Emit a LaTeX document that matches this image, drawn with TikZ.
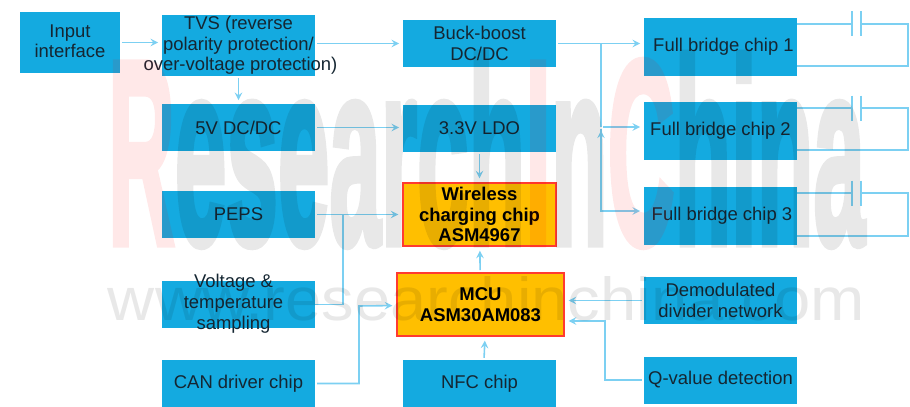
\documentclass[tikz,border=0pt]{standalone}
\usepackage{fontspec}
\setmainfont{Liberation Sans}
\newfontfamily\markfont[BoldFeatures={FakeBold=3}]{Liberation Sans}
\definecolor{boxblue}{HTML}{14AAE0}
\definecolor{wireblue}{HTML}{7CD0F2}
\definecolor{chipgold}{HTML}{FFBF00}
\definecolor{chipred}{HTML}{FF3B30}
\definecolor{inkdark}{HTML}{152632}

\begin{document}
\begin{tikzpicture}[>=stealth, node distance=4.82cm,
  block/.style={fill=boxblue, text=inkdark, inner sep=0pt, align=center, minimum width=3.06cm, minimum height=0.94cm, font=\fontsize{10.5}{11.7}\selectfont},
  chip/.style={block, fill=chipgold, draw=chipred, line width=1.3pt, text=black, font=\fontsize{10.5}{11.7}\selectfont\bfseries},
  lead/.style={draw=wireblue, line width=0.9pt},
  wire/.style={->, lead, shorten >=2pt, shorten <=1pt, every edge/.style={draw=wireblue, line width=0.9pt}},
  stamp/.style={inner sep=0pt}]
  \useasboundingbox (0,0) rectangle (18.2,-8.14);

  % left column
  \node[block, minimum width=2cm, minimum height=1.22cm] (input) at (1.4,-0.85) {\raisebox{0.05cm}{Input}\\\raisebox{0.05cm}{interface}};
  \node[block, minimum height=1.22cm] (tvs) [right of=input, node distance=3.37cm, yshift=-0.06cm] {TVS (reverse\\polarity protection/\\\makebox[0pt]{\hspace{0.08cm}over-voltage protection)}};
  \node[block] (v5)   [below of=tvs, node distance=1.64cm]  {\raisebox{-0.04cm}{5V DC/DC}};
  \node[block] (peps) [below of=v5, node distance=1.74cm]   {PEPS};
  \node[block] (temp) [below of=peps, node distance=1.8cm]  {\smash{\raisebox{-0.08cm}{\hspace*{-0.2cm}\parbox[c]{2.9cm}{\centering Voltage \&\\temperature\\sampling}}}};
  \node[block] (can)  [below of=temp, node distance=1.58cm] {CAN driver chip};

  % middle column
  \node[block] (buck) [right of=tvs, yshift=0.04cm]  {Buck-boost\\DC/DC};
  \node[block] (ldo)  [below of=buck, node distance=1.7cm]  {3.3V LDO};
  \node[chip, minimum height=1.26cm] (wpc) [right of=peps] {Wireless\\charging chip\\ASM4967};
  \node[chip, minimum width=3.34cm, minimum height=1.26cm] (mcu) [right of=temp, xshift=0.02cm] {MCU\\ASM30AM083};
  \node[block] (nfc)  [right of=can]  {NFC chip};

  % right column
  \node[block, minimum height=1.16cm] (fb1) [right of=buck, yshift=-0.06cm] {\hspace*{0.12cm}Full bridge chip 1};
  \node[block, minimum height=1.16cm] (fb2) [below of=fb1, node distance=1.68cm] {\raisebox{-0.08cm}{Full bridge chip 2}};
  \node[block, minimum height=1.16cm] (fb3) [below of=fb2, node distance=1.71cm] {\raisebox{-0.04cm}{\hspace*{0.06cm}Full bridge chip 3}};
  \node[block] (demod) [below of=fb3, node distance=1.69cm] {\raisebox{-0.04cm}{Demodulated}\\\raisebox{-0.04cm}{divider network}};
  \node[block] (qval)  [below of=demod, node distance=1.59cm] {Q-value detection};

  % bends
  \coordinate (bus1) at (12.02,-0.87);
  \coordinate (bus2) at (12.02,-2.54);
  \coordinate (bus3) at (12.02,-4.22);
  \coordinate (join) at (6.86,-4.29);
  \coordinate (canb) at (7.18,-6.12);
  \coordinate (qb)   at (12.1,-6.42);

  \path[wire] (input) edge (tvs.west |- input)
              (tvs.east |- buck) edge (buck)
              (tvs) edge (v5)
              (v5) edge (ldo.west |- v5)
              (ldo) edge (wpc)
              (peps) edge (wpc)
              (mcu) edge (wpc)
              ([xshift=0.09cm]nfc.north) edge ([xshift=0.09cm]mcu.south)
              (demod) edge (mcu.east |- demod)
              (buck) edge (fb1.west |- buck)
              (bus2) edge (fb2.west |- bus2);
  \draw[lead] (bus1) -- (bus2);
  \draw[wire] (bus2) |- (fb3.west |- bus3);
  \draw[lead] (temp) -| (join);
  \draw[wire] (can) -| (canb) -- (mcu);
  \draw[wire] (qval) -| (qb) -- (mcu.east |- qb);

  % capacitors
  \coordinate (c1) at (17.04,-0.48);
  \coordinate (d1) at (17.22,-0.48);
  \coordinate (r1) at (18.16,-1.32);
  \coordinate (c2) at (17.04,-2.16);
  \coordinate (d2) at (17.22,-2.16);
  \coordinate (r2) at (18.16,-3.0);
  \coordinate (c3) at (17.04,-3.86);
  \coordinate (d3) at (17.22,-3.86);
  \coordinate (r3) at (18.16,-4.72);
  \draw[lead] (fb1.east |- c1) -- (c1) ([yshift=0.25cm]c1) -- ([yshift=-0.25cm]c1);
  \draw[lead] ([yshift=0.25cm]d1) -- ([yshift=-0.25cm]d1) (d1) -| (r1) -- (fb1.east |- r1);
  \draw[lead] (fb2.east |- c2) -- (c2) ([yshift=0.25cm]c2) -- ([yshift=-0.25cm]c2);
  \draw[lead] ([yshift=0.25cm]d2) -- ([yshift=-0.25cm]d2) (d2) -| (r2) -- (fb2.east |- r2);
  \draw[lead] (fb3.east |- c3) -- (c3) ([yshift=0.25cm]c3) -- ([yshift=-0.25cm]c3);
  \draw[lead] ([yshift=0.25cm]d3) -- ([yshift=-0.25cm]d3) (d3) -| (r3) -- (fb3.east |- r3);

  % watermark
  \begin{scope}[transparency group, opacity=0.09]
    \node[stamp] (mark) at (9.73,-3) {\resizebox{15.14cm}{3.8cm}{\markfont\bfseries\textcolor{red}{R}esearch\textcolor{red}{I}n\textcolor{red}{C}hina}};
    \node[stamp] (site) at (9.73,-5.98) {\resizebox{15.14cm}{0.88cm}{www.researchinchina.com}};
  \end{scope}
\end{tikzpicture}
\end{document}
